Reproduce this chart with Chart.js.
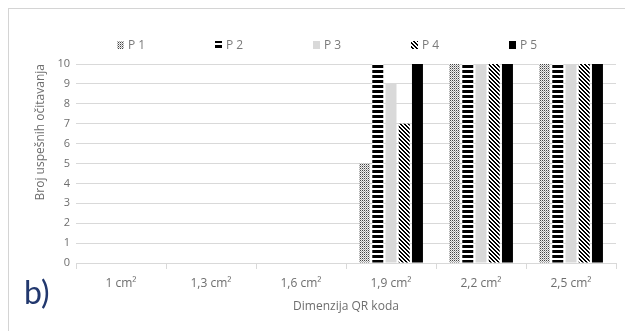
<!DOCTYPE html>
<html>
<head>
<meta charset="utf-8">
<script src="https://cdn.jsdelivr.net/npm/chart.js@4.4.1/dist/chart.umd.min.js"></script>
<style>
  html, body { margin: 0; padding: 0; background: #fff; }
  #wrap { position: relative; width: 625px; height: 331px; overflow: hidden; }
  #frame { position: absolute; left: 8px; top: 8px; width: 700px; height: 400px;
           border-left: 1px solid #d4d4d4; border-top: 1px solid #d4d4d4; }
  #c { position: absolute; left: 0; top: 0; }
  #tag { position: absolute; left: 24px; top: 276px; font: 32px Lato, sans-serif; color: #22386e; line-height: 1; }
</style>
</head>
<body>
<div id="wrap">
  <div id="frame"></div>
  <canvas id="c" width="625" height="331"></canvas>
  <div id="tag">b)</div>
</div>
<script>
// Successful reads per QR code size, for five test phones
const categories = ['1 cm²', '1,3 cm²', '1,6 cm²', '1,9 cm²', '2,2 cm²', '2,5 cm²'];
const seriesNames = ['P 1', 'P 2', 'P 3', 'P 4', 'P 5'];
const p1 = [0, 0, 0, 5, 10, 10];
const p2 = [0, 0, 0, 10, 10, 10];
const p3 = [0, 0, 0, 9, 10, 10];
const p4 = [0, 0, 0, 7, 10, 10];
const p5 = [0, 0, 0, 10, 10, 10];
const yMin = 0, yMax = 10, yStep = 1;

const FONT = '"Open Sans", Lato, sans-serif';
const TEXT = '#6e6e6e';
const GRID = '#d9d9d9';

// Small tile patterns used as bar fills
function makePattern(w, h, paint) {
  const cv = document.createElement('canvas');
  cv.width = w; cv.height = h;
  const g = cv.getContext('2d');
  paint(g, w, h);
  return g.createPattern(cv, 'repeat');
}
const ctx = document.getElementById('c').getContext('2d');

const dotFill = makePattern(2, 2, g => {
  g.fillStyle = '#f0f0f0'; g.fillRect(0, 0, 2, 2);
  g.fillStyle = '#444444'; g.fillRect(0, 0, 1, 1);
  g.fillStyle = '#aaaaaa'; g.fillRect(1, 1, 1, 1);
});
const hStripeFill = makePattern(5, 5, g => {
  g.fillStyle = '#ffffff'; g.fillRect(0, 0, 5, 5);
  g.fillStyle = '#000000'; g.fillRect(0, 0, 5, 3);
});
const diagFill = makePattern(4, 4, g => {
  g.fillStyle = '#ffffff'; g.fillRect(0, 0, 4, 4);
  g.fillStyle = '#000000';
  for (let y = 0; y < 4; y++) for (let x = 0; x < 4; x++) {
    if (((x - y) % 4 + 4) % 4 < 2) g.fillRect(x, y, 1, 1);
  }
});

const fills = [dotFill, hStripeFill, '#d9d9d9', diagFill, '#000000'];
const values = [p1, p2, p3, p4, p5];

const datasets = seriesNames.map((name, i) => ({
  label: name,
  data: values[i],
  backgroundColor: fills[i],
  borderWidth: 0,
  categoryPercentage: 0.735,
  barPercentage: 0.83
}));

// Legend row drawn across the top, one entry per dataset
const topLegend = {
  id: 'topLegend',
  afterDraw(chart, args, opts) {
    const c = chart.ctx;
    const area = chart.chartArea;
    c.save();
    c.font = '12px ' + FONT;
    c.textBaseline = 'middle';
    c.textAlign = 'left';
    chart.data.datasets.forEach((ds, i) => {
      const x = area.left + opts.start + i * opts.step;
      const y = opts.y;
      c.fillStyle = ds.backgroundColor;
      c.fillRect(x, y - 4, 7, 8);
      c.fillStyle = '#7a7a7a';
      c.fillText(ds.label, x + 11, y + 0.5);
    });
    c.restore();
  }
};

new Chart(ctx, {
  type: 'bar',
  data: { labels: categories, datasets },
  plugins: [topLegend],
  options: {
    responsive: false,
    devicePixelRatio: 1,
    animation: false,
    layout: { padding: { top: 64, right: 9, left: 0, bottom: 0 } },
    plugins: {
      legend: { display: false },
      tooltip: { enabled: false },
      topLegend: { start: 41, step: 98, y: 45 }
    },
    scales: {
      x: {
        grid: { offset: true, drawOnChartArea: false, drawTicks: true, tickLength: 6, color: GRID },
        border: { display: true, color: GRID },
        ticks: { color: TEXT, font: { family: FONT, size: 12 }, padding: 7, maxRotation: 0 },
        title: { display: true, text: 'Dimenzija QR koda', color: TEXT,
                 font: { family: FONT, size: 12 }, padding: { top: 0, bottom: 17 } },
        afterFit(s) { s.height = 68; }
      },
      y: {
        min: yMin, max: yMax,
        ticks: { stepSize: yStep, color: TEXT, font: { family: FONT, size: 11 }, padding: 6 },
        grid: { color: GRID, drawTicks: false },
        border: { display: false },
        title: { display: true, text: 'Broj uspešnih očitavanja', color: TEXT, align: 'end',
                 font: { family: FONT, size: 12 }, padding: { top: 33, bottom: 0 } },
        afterFit(s) { s.width = 76; }
      }
    }
  }
});
</script>
</body>
</html>
